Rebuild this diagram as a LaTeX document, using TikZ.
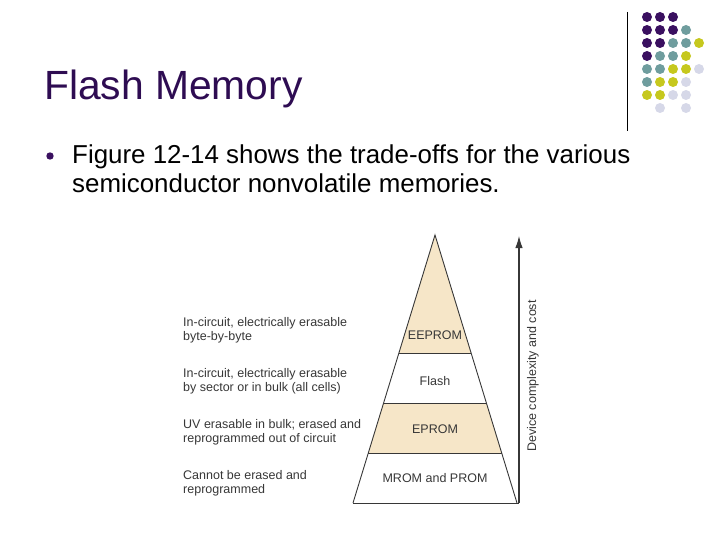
\documentclass[tikz,border=0pt]{standalone}
\usepackage{fontspec}
\setmainfont{Liberation Sans}
\usetikzlibrary{arrows.meta,positioning,calc}
\definecolor{ttlpurple}{RGB}{46,12,82}
\definecolor{dpurple}{RGB}{58,16,96}
\definecolor{dteal}{RGB}{111,157,158}
\definecolor{dyellow}{RGB}{198,200,30}
\definecolor{dlav}{RGB}{214,216,232}
\definecolor{figgray}{RGB}{55,55,55}
\definecolor{tan}{RGB}{246,230,200}

\begin{document}
\begin{tikzpicture}[
  x=1pt, y=-1pt,
  lbl/.style={font=\fontsize{12.5}{14}\selectfont, text=figgray, align=left,
    anchor=base west, inner sep=0pt},
  bnd/.style={font=\fontsize{12.5}{14}\selectfont, text=figgray, inner sep=0pt},
  edge/.style={draw=figgray, line width=0.9pt}
]
\useasboundingbox (0,0) rectangle (720,540);

% corner dots and rule
\foreach \c/\r/\k in {0/0/dpurple,1/0/dpurple,2/0/dpurple,
    0/1/dpurple,1/1/dpurple,2/1/dpurple,3/1/dteal,
    0/2/dpurple,1/2/dpurple,2/2/dteal,3/2/dteal,4/2/dyellow,
    0/3/dpurple,1/3/dteal,2/3/dteal,3/3/dyellow,
    0/4/dteal,1/4/dteal,2/4/dyellow,3/4/dyellow,4/4/dlav,
    0/5/dteal,1/5/dyellow,2/5/dyellow,3/5/dlav,
    0/6/dyellow,1/6/dyellow,2/6/dlav,3/6/dlav,
    1/7/dlav,3/7/dlav}
  \fill[\k] (647+13*\c,17+13*\r) circle (5);
\coordinate (rt) at (627,12);
\coordinate (rb) at (627,131);
\draw[line width=0.8pt] (rt) -- (rb);

% title and bullet
\node[anchor=base west, inner sep=0pt, text=ttlpurple,
  font=\fontsize{40.8}{48}\selectfont] (title) at (44,100) {Flash Memory};
\fill[dpurple] (50,156) circle (3.7);
\node[anchor=base west, inner sep=0pt, align=left,
  font=\fontsize{25.9}{29}\selectfont] (body) at (72,193)
  {Figure 12-14 shows the trade-offs for the various\\
   semiconductor nonvolatile memories.};

% pyramid
\coordinate (apex) at (435,235);
\coordinate (bl) at (353,503);
\coordinate (br) at (517,503);
\coordinate (l1) at ($(apex)!0.4403!(bl)$);
\coordinate (r1) at ($(apex)!0.4403!(br)$);
\coordinate (l2) at ($(apex)!0.6269!(bl)$);
\coordinate (r2) at ($(apex)!0.6269!(br)$);
\coordinate (l3) at ($(apex)!0.8134!(bl)$);
\coordinate (r3) at ($(apex)!0.8134!(br)$);
\fill[tan] (apex) -- (r1) -- (l1) -- cycle;
\fill[tan] (l2) -- (r2) -- (r3) -- (l3) -- cycle;
\draw[edge] (bl) -- (apex) -- (br);
\draw[edge] (l1) -- (r1) (l2) -- (r2) (l3) -- (r3);

\node[bnd] (eep) at (435,335) {EEPROM};
\node[bnd] (fla) at (435,381) {Flash};
\node[bnd] (epr) at (435,429) {EPROM};
\node[bnd] (mrom) at (435,478) {MROM and PROM};

% cost axis
\coordinate (ab) at (519,503);
\coordinate (at) at (519,236);
\draw[edge] (bl) -- (ab);
\draw[figgray, line width=1.1pt, -{Latex[length=12pt,width=7.5pt]}] (ab) -- (at);
\node[bnd, rotate=90] (cost) at (533,376) {Device complexity and cost};

% left side notes
\node[lbl] (n1) at (183,340) {In-circuit, electrically erasable\\byte-by-byte};
\node[lbl] (n2) at (183,391) {In-circuit, electrically erasable\\by sector or in bulk (all cells)};
\node[lbl] (n3) at (183,442) {UV erasable in bulk; erased and\\reprogrammed out of circuit};
\node[lbl] (n4) at (183,493) {Cannot be erased and\\reprogrammed};
\end{tikzpicture}
\end{document}
